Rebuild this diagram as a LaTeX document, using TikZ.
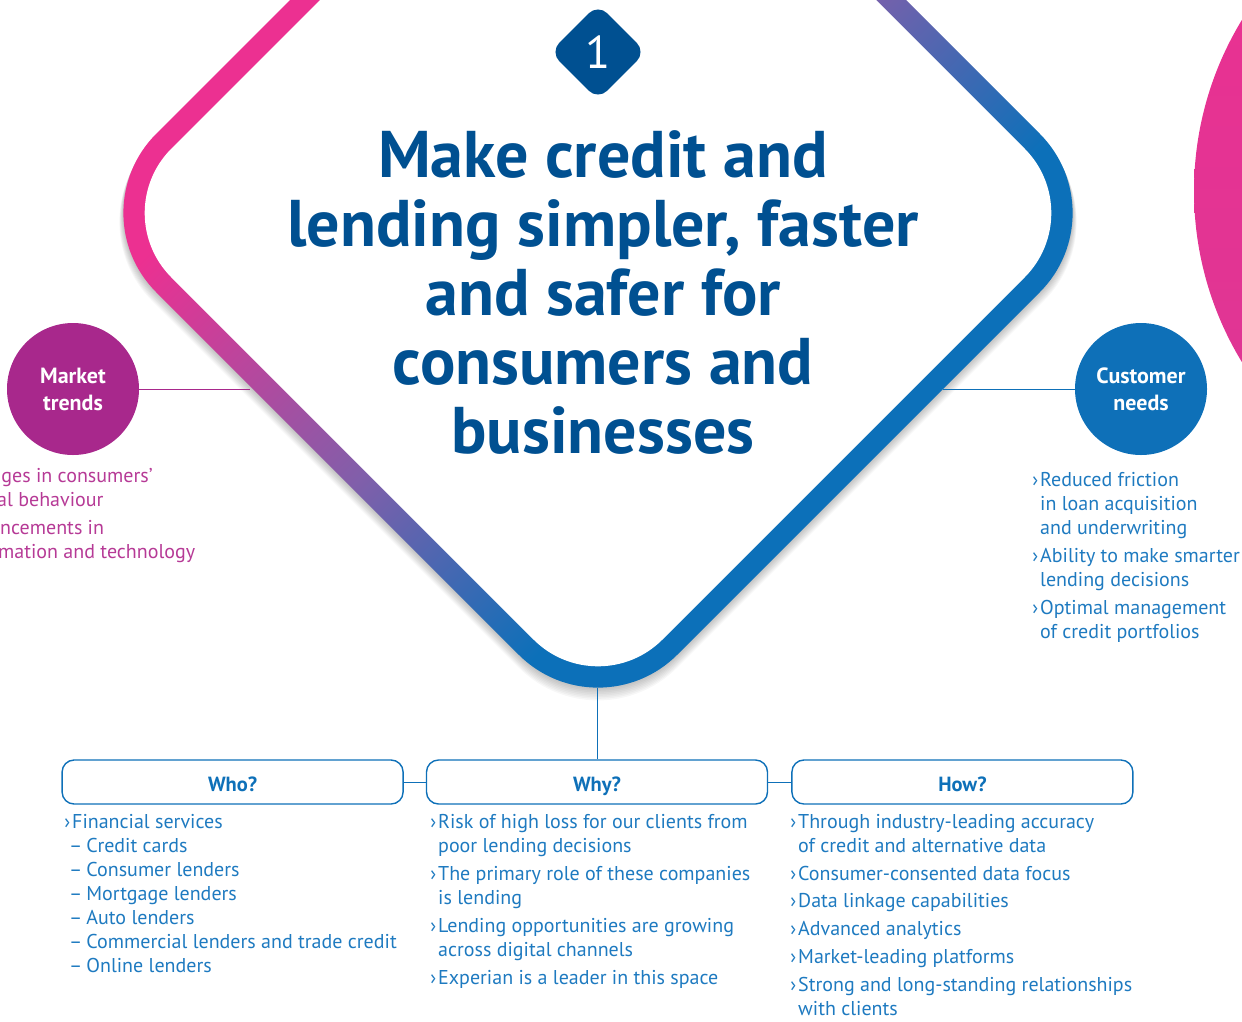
\documentclass[tikz,border=0pt]{standalone}
\usepackage{fontspec}
\setmainfont{PT Sans}
\usetikzlibrary{positioning,shapes.geometric}

\definecolor{titleblue}{RGB}{0,80,145}
\definecolor{lineblue}{RGB}{14,112,184}
\definecolor{listblue}{RGB}{30,122,192}
\definecolor{trendpurple}{RGB}{168,40,140}
\definecolor{trendtext}{RGB}{182,58,150}
\definecolor{ringpink}{RGB}{236,48,145}
\definecolor{ringpurple}{RGB}{128,95,170}
\definecolor{ringblue}{RGB}{12,112,185}

\pgfdeclarehorizontalshading{ringgrad}{100bp}{color(0bp)=(ringpink); color(36bp)=(ringpink); color(51bp)=(ringpurple); color(63bp)=(ringblue); color(100bp)=(ringblue)}

% rounded diamond round (598,213), half diagonal #1
\newcommand\ringpath[1]{({598-(#1)/2},{213-(#1)/2}) -- (598,{213-(#1)}) -- ({598+(#1)},213) -- (598,{213+(#1)}) -- ({598-(#1)},213) -- cycle}
\newcommand\bul{\llap{›\hspace{2pt}}}
\newcommand\dsh{\hspace{-3pt}–\hspace{4pt}}

\begin{document}
\begin{tikzpicture}[x=1pt,y=-1pt,
    hub/.style={circle,minimum size=132pt,inner sep=0pt,text=white,align=center,font=\bfseries\fontsize{22}{27}\selectfont},
    qbox/.style={draw=lineblue,line width=1.4pt,rounded corners=12pt,minimum width=341pt,minimum height=44pt,text height=20pt,text depth=2pt,text=lineblue,font=\bfseries\fontsize{20.5}{24}\selectfont},
    blist/.style={align=left,inner sep=0pt,anchor=base west,text=listblue,font=\fontsize{20}{24}\selectfont},
    numbadge/.style={diamond,fill=titleblue,rounded corners=13pt,minimum width=96pt,minimum height=96pt,inner sep=0pt,text=white,font=\fontsize{46}{46}\selectfont},
    title/.style={align=center,anchor=base,text=titleblue,font=\bfseries\fontsize{66}{69}\selectfont},
    link/.style={draw=lineblue,line width=1pt}]
\useasboundingbox (0,0) rectangle (1242,1021);

% next panel, cut by the page edge
\shade[top color=ringpink,bottom color=ringpink!85!ringpurple] (1523,191) circle (329pt);

% soft shadow and ring
\foreach \k in {1,...,8}
  \fill[black,opacity=0.03,rounded corners=112pt,yshift={-1.1*\k pt}] \ringpath{521+\k/2};
\shade[shading=ringgrad,shading angle=-45,rounded corners=112pt] \ringpath{521};
\fill[white,rounded corners=91pt] \ringpath{491};

\node[numbadge] (num) at (598,52) {1};
% base = last line
\node[title] (title) at (603,453) {Make credit and\\lending simpler, faster\\and safer for\\consumers and\\businesses};

% side hubs
\node[hub,fill=trendpurple] (trends) at (73,389) {Market\\trends};
\node[hub,fill=lineblue] (needs) at (1141,389) {Customer\\needs};
\coordinate (tl) at (250,389);
\coordinate (nl) at (943,389);
\draw[trendpurple,line width=1pt] (trends) -- (tl);
\draw[link] (nl) -- (needs);

\node[blist,text=trendtext] (trendlist) at (-42,558) {\bul Changes in consumers'\\digital behaviour\\[4pt]\bul Advancements in\\information and technology};
\node[blist] (needlist) at (1040,638) {\bul Reduced friction\\in loan acquisition\\and underwriting\\[4pt]\bul Ability to make smarter\\lending decisions\\[4pt]\bul Optimal management\\of credit portfolios};

% who / why / how
\node[qbox] (why) at (597,782) {Why?};
\node[qbox,left=22pt of why] (who) {Who?};
\node[qbox,right=23pt of why] (how) {How?};
\coordinate (rb) at (597,688);
\draw[link] (rb) -- (why);
\draw[link] (who) -- (why);
\draw[link] (why) -- (how);

\node[blist] (wholist) at (72,972) {\bul Financial services\\\dsh Credit cards\\\dsh Consumer lenders\\\dsh Mortgage lenders\\\dsh Auto lenders\\\dsh Commercial lenders and trade credit\\\dsh Online lenders};
\node[blist] (whylist) at (438,984) {\bul Risk of high loss for our clients from\\poor lending decisions\\[4pt]\bul The primary role of these companies\\is lending\\[4pt]\bul Lending opportunities are growing\\across digital channels\\[4pt]\bul Experian is a leader in this space};
\node[blist] (howlist) at (798,1015) {\bul Through industry-leading accuracy\\of credit and alternative data\\[4pt]\bul Consumer-consented data focus\\[3pt]\bul Data linkage capabilities\\[4pt]\bul Advanced analytics\\[4pt]\bul Market-leading platforms\\[4pt]\bul Strong and long-standing relationships\\with clients};
\end{tikzpicture}
\end{document}
